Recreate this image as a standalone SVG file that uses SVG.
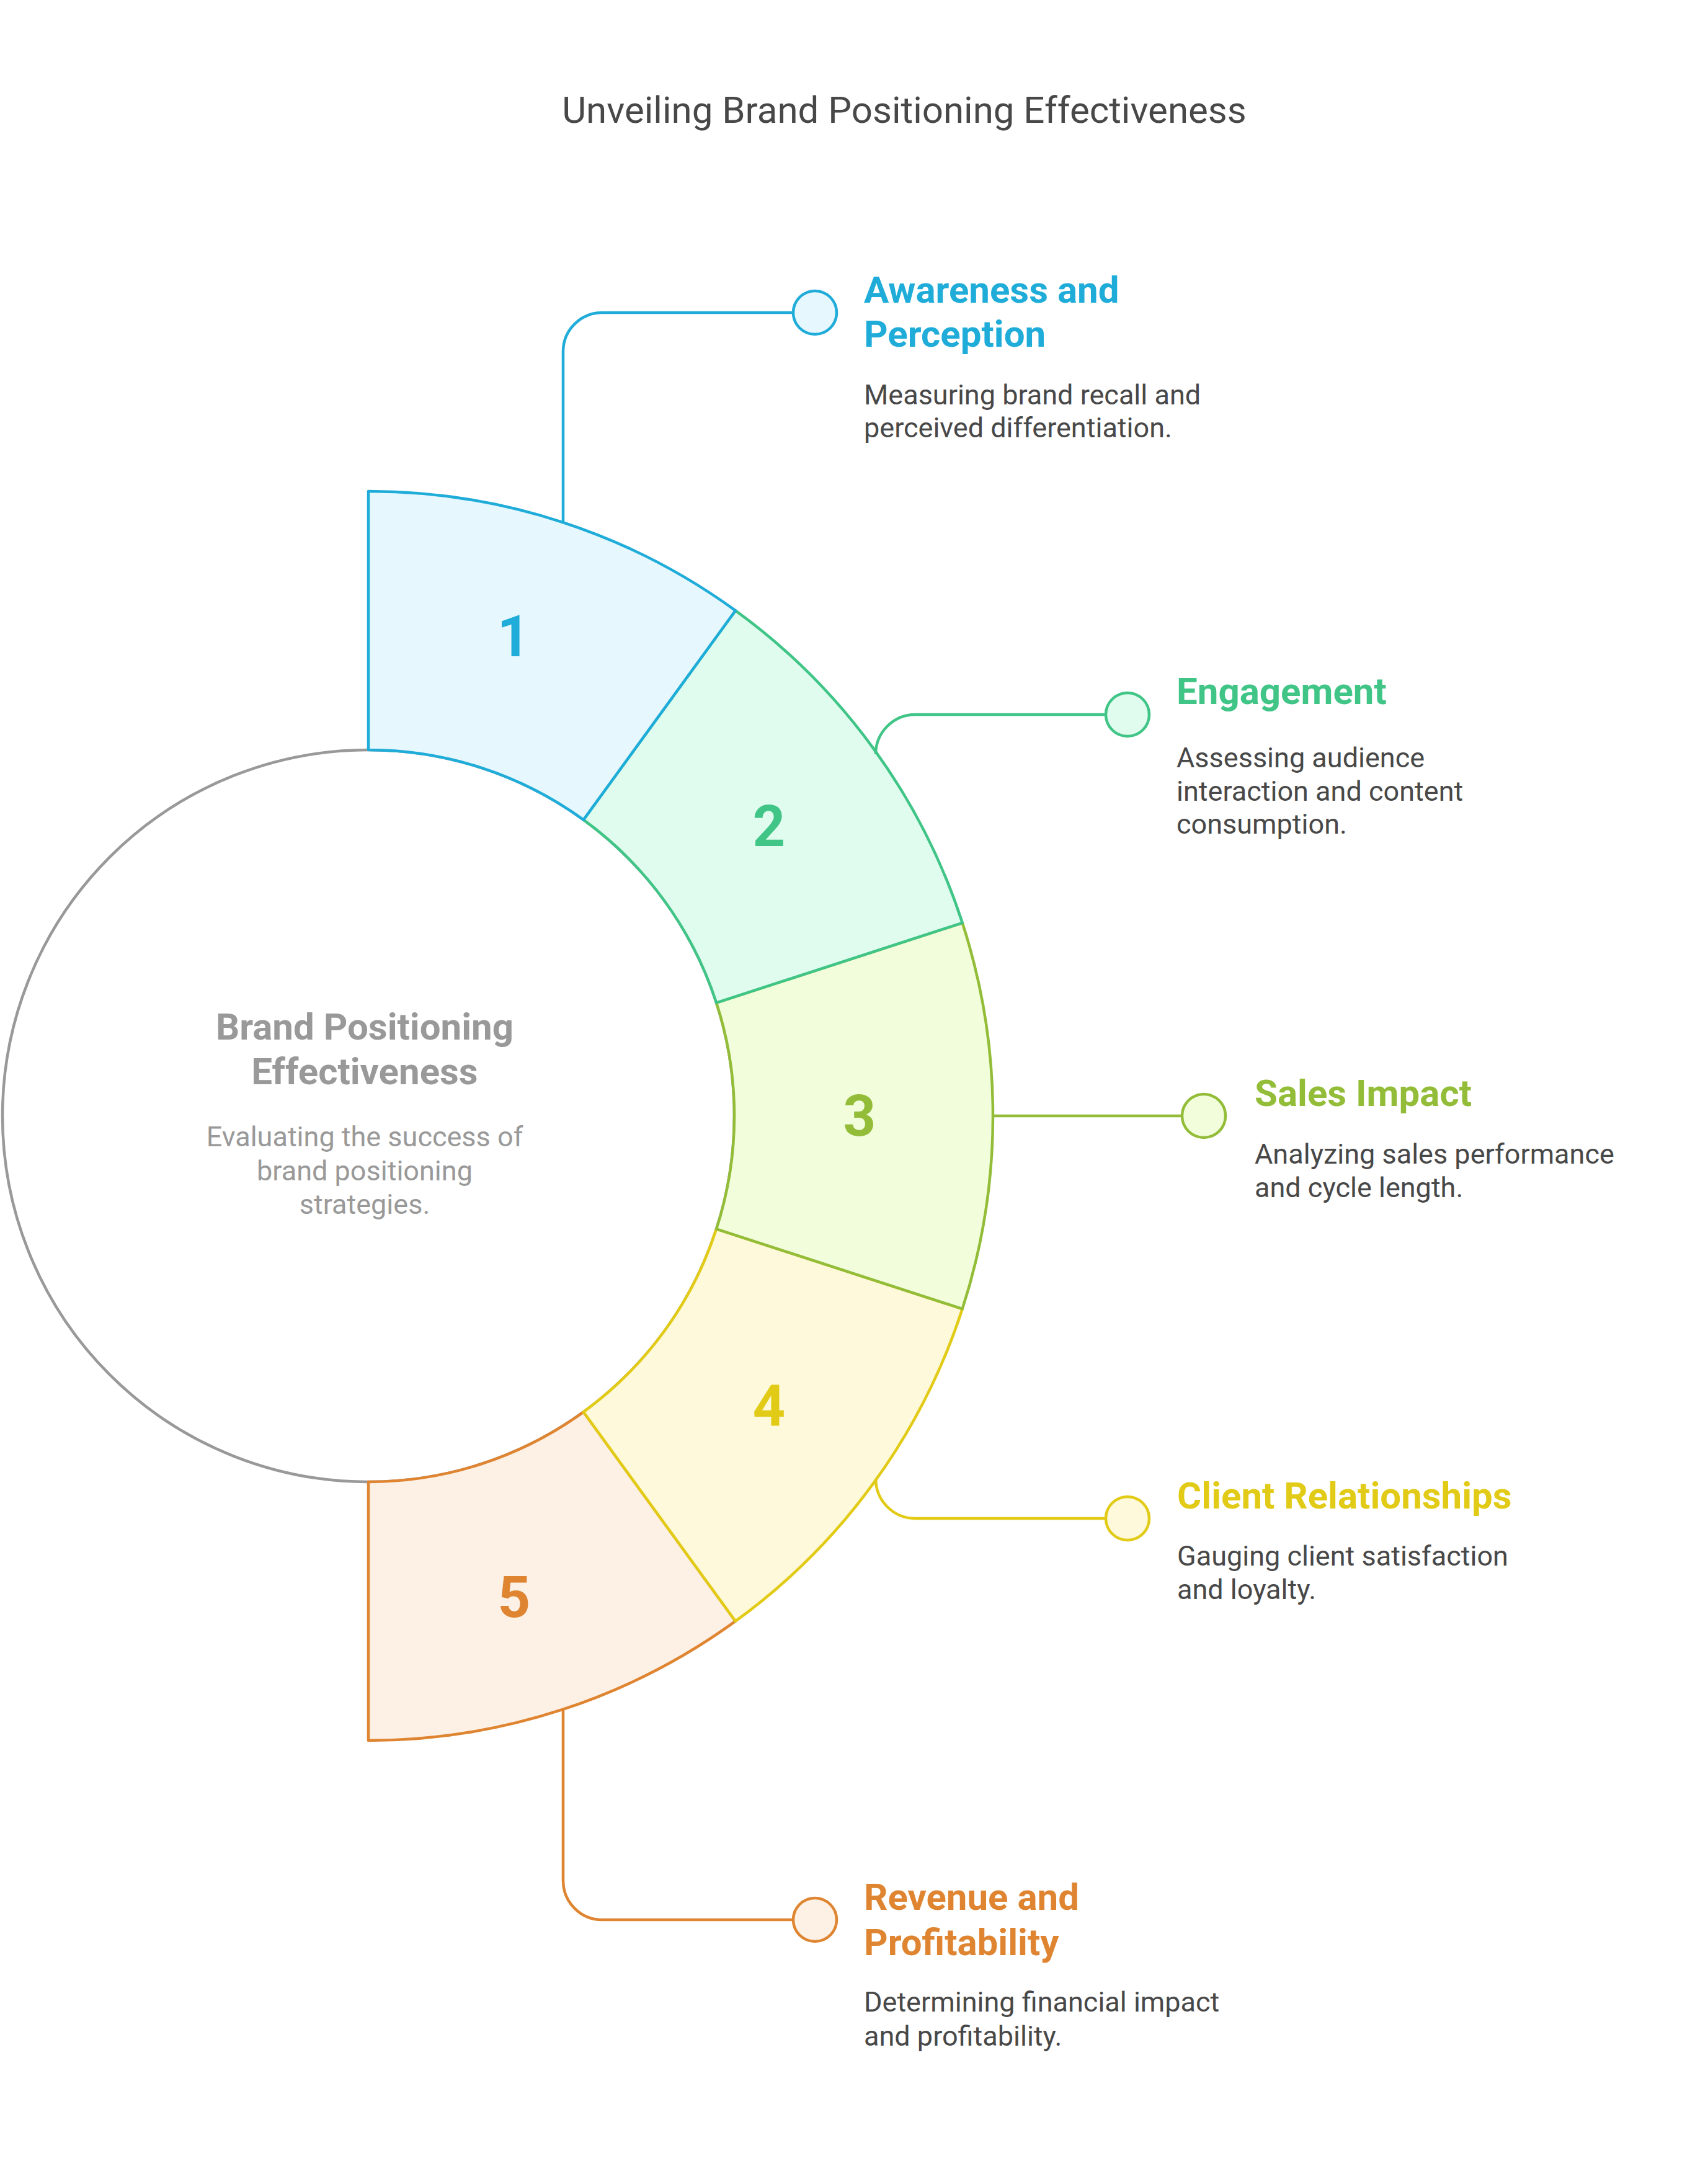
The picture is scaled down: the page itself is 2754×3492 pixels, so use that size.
<svg xmlns="http://www.w3.org/2000/svg" width="2754" height="3492" viewBox="0 0 2754 3492">
<style>
text{font-family:Roboto,"Liberation Sans",sans-serif}
.title{font-size:60px;fill:#484848;text-anchor:middle}
.h{font-size:60px;font-weight:bold}
.d{font-size:45px;fill:#484848}
.num{font-size:92px;font-weight:bold;text-anchor:middle}
.seg{stroke-width:4.5;stroke-linejoin:round}
.con{fill:none;stroke-width:4.5}
.dot{stroke-width:4.5}
.c1{stroke:#1FACD9}.f1{fill:#E6F7FD}.t1{fill:#1FACD9}
.c2{stroke:#40C587}.f2{fill:#E0FCEE}.t2{fill:#40C587}
.c3{stroke:#93BD38}.f3{fill:#F2FDDC}.t3{fill:#93BD38}
.c4{stroke:#E2CB17}.f4{fill:#FEF9DA}.t4{fill:#E2CB17}
.c5{stroke:#DF8531}.f5{fill:#FDF0E4}.t5{fill:#DF8531}
</style>
<rect width="2754" height="3492" fill="#ffffff"/>
<text class="title" x="1458" y="198">Unveiling Brand Positioning Effectiveness</text>

<g id="center">
<circle cx="594" cy="1799" r="590" fill="#ffffff" stroke="#999999" stroke-width="4.5"/>
<text x="588" y="1676" text-anchor="middle" font-size="60" font-weight="bold" fill="#999999">Brand Positioning</text>
<text x="588" y="1748" text-anchor="middle" font-size="60" font-weight="bold" fill="#999999">Effectiveness</text>
<text x="588" y="1848" text-anchor="middle" font-size="45" fill="#999999">Evaluating the success of</text>
<text x="588" y="1903" text-anchor="middle" font-size="45" fill="#999999">brand positioning</text>
<text x="588" y="1957" text-anchor="middle" font-size="45" fill="#999999">strategies.</text>
</g>

<g id="segment5">
<path class="seg c5 f5" d="M1185.9 2613.68 A1007 1007 0 0 1 594 2806 L594 2389 A590 590 0 0 0 940.79 2276.32 Z"/>
<text class="num t5" x="829" y="2607">5</text>
</g>
<g id="segment4">
<path class="seg c4 f4" d="M1551.71 2110.18 A1007 1007 0 0 1 1185.9 2613.68 L940.79 2276.32 A590 590 0 0 0 1155.12 1981.32 Z"/>
<text class="num t4" x="1240" y="2298">4</text>
</g>
<g id="segment3">
<path class="seg c3 f3" d="M1551.71 1487.82 A1007 1007 0 0 1 1551.71 2110.18 L1155.12 1981.32 A590 590 0 0 0 1155.12 1616.68 Z"/>
<text class="num t3" x="1386" y="1831">3</text>
</g>
<g id="segment2">
<path class="seg c2 f2" d="M1185.9 984.32 A1007 1007 0 0 1 1551.71 1487.82 L1155.12 1616.68 A590 590 0 0 0 940.79 1321.68 Z"/>
<text class="num t2" x="1240" y="1364">2</text>
</g>
<g id="segment1">
<path class="seg c1 f1" d="M594 792 A1007 1007 0 0 1 1185.9 984.32 L940.79 1321.68 A590 590 0 0 0 594 1209 Z"/>
<text class="num t1" x="828" y="1058">1</text>
</g>

<g id="connectors">
<path class="con c1" d="M908 842 L908 567 A63 63 0 0 1 971 504 L1280 504"/>
<path class="con c2" d="M1412 1214 L1412 1216 A64 64 0 0 1 1476 1152 L1783 1152"/>
<path class="con c3" d="M1601 1799 L1906 1799"/>
<path class="con c4" d="M1412 2384 A64 64 0 0 0 1476 2448 L1783 2448"/>
<path class="con c5" d="M908 2756 L908 3032 A63 63 0 0 0 971 3095 L1280 3095"/>
</g>

<g id="item1">
<circle class="dot c1 f1" cx="1314" cy="504" r="35"/>
<text class="h t1" x="1393" y="488">Awareness and</text>
<text class="h t1" x="1393" y="559">Perception</text>
<text class="d" x="1393" y="652">Measuring brand recall and</text>
<text class="d" x="1393" y="705">perceived differentiation.</text>
</g>
<g id="item2">
<circle class="dot c2 f2" cx="1818" cy="1152" r="35"/>
<text class="h t2" x="1897" y="1135">Engagement</text>
<text class="d" x="1897" y="1237">Assessing audience</text>
<text class="d" x="1897" y="1291">interaction and content</text>
<text class="d" x="1897" y="1344">consumption.</text>
</g>
<g id="item3">
<circle class="dot c3 f3" cx="1941" cy="1799" r="35"/>
<text class="h t3" x="2023" y="1783">Sales Impact</text>
<text class="d" x="2023" y="1876">Analyzing sales performance</text>
<text class="d" x="2023" y="1930">and cycle length.</text>
</g>
<g id="item4">
<circle class="dot c4 f4" cx="1818" cy="2448" r="35"/>
<text class="h t4" x="1898" y="2432">Client Relationships</text>
<text class="d" x="1898" y="2524">Gauging client satisfaction</text>
<text class="d" x="1898" y="2578">and loyalty.</text>
</g>
<g id="item5">
<circle class="dot c5 f5" cx="1314" cy="3095" r="35"/>
<text class="h t5" x="1393" y="3079">Revenue and</text>
<text class="h t5" x="1393" y="3152">Profitability</text>
<text class="d" x="1393" y="3243">Determining financial impact</text>
<text class="d" x="1393" y="3298">and profitability.</text>
</g>
</svg>
